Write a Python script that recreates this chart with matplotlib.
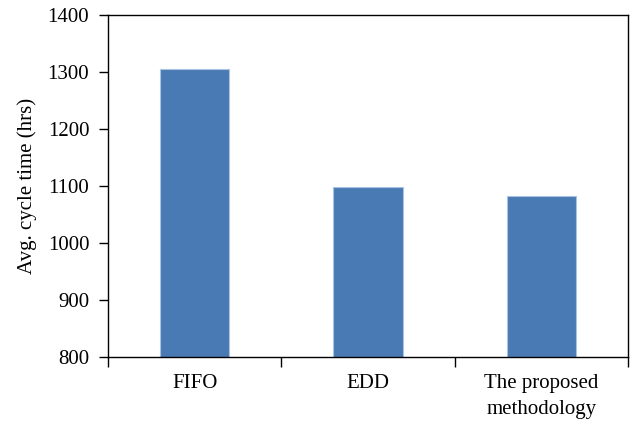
import matplotlib.pyplot as plt
import numpy as np

categories = ['FIFO', 'EDD', 'The proposed\nmethodology']
cycle_time = [1306, 1098, 1082]
yticks = [800, 900, 1000, 1100, 1200, 1300, 1400]

plt.rcParams['font.family'] = ['Liberation Serif', 'DejaVu Serif']

fig = plt.figure(figsize=(6.33, 4.29), dpi=100)
ax = fig.add_axes([0.1706, 0.168, 0.8214, 0.797])

x = np.arange(len(categories))
ax.bar(x, cycle_time, width=0.4, color='#4a7ab4', edgecolor='#a9c3e3', linewidth=0.8)

ax.set_ylim(800, 1400)
ax.set_yticks(yticks)
ax.set_xlim(-0.5, len(categories) - 0.5)
ax.set_xticks(x)
ax.set_xticklabels(categories, fontsize=15, linespacing=1.55)
ax.set_xticks(np.arange(len(categories) + 1) - 0.5, minor=True)
ax.tick_params(axis='x', which='major', length=0, pad=12)
ax.tick_params(axis='x', which='minor', length=7, width=1, direction='out')
ax.tick_params(axis='y', length=6.5, width=1, direction='out', labelsize=15, pad=7)
ax.set_ylabel('Avg. cycle time (hrs)', fontsize=15, labelpad=8)

for s in ax.spines.values():
    s.set_linewidth(1)

fig.savefig('out.png', dpi=100)
